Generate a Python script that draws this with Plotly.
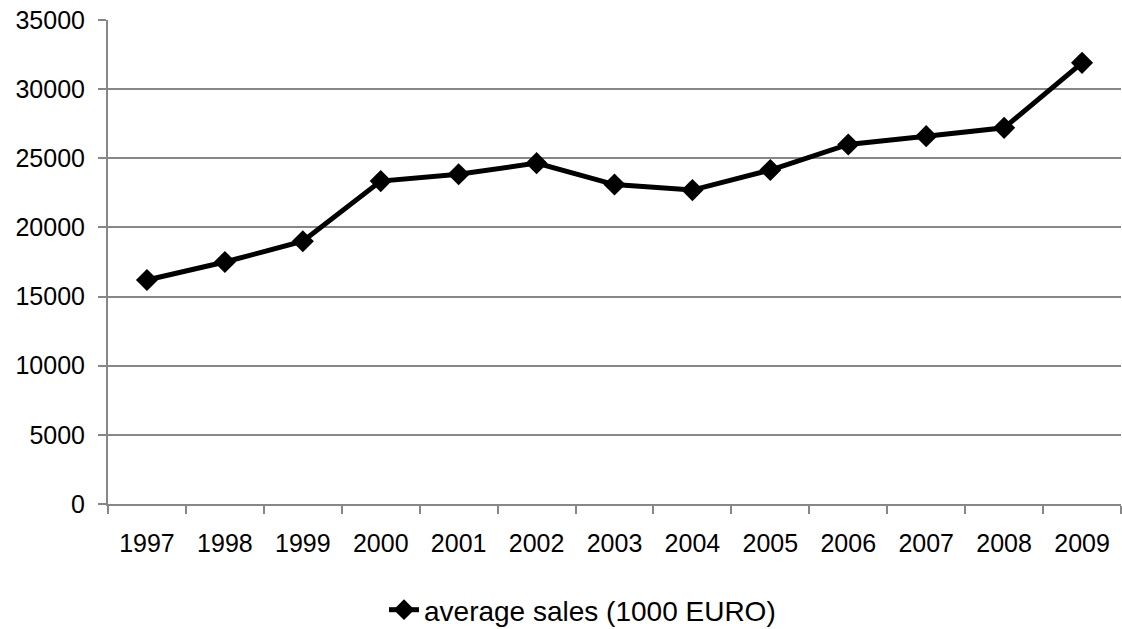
import plotly.graph_objects as go

# Average sales per year, in thousands of euro
years = ["1997", "1998", "1999", "2000", "2001", "2002", "2003",
         "2004", "2005", "2006", "2007", "2008", "2009"]
avg_sales = [16200, 17500, 19000, 23350, 23850, 24650, 23100,
             22700, 24150, 26000, 26600, 27200, 31900]
series_name = "average sales (1000 EURO)"
y_ticks = [0, 5000, 10000, 15000, 20000, 25000, 30000, 35000]

FONT = "Liberation Sans, Arial, sans-serif"
GRID = "#878787"

fig = go.Figure()
fig.add_trace(go.Scatter(
    x=years,
    y=avg_sales,
    mode="lines+markers",
    name=series_name,
    line=dict(color="black", width=5),
    marker=dict(symbol="diamond", size=17, color="black"),
))

fig.update_layout(
    width=1122,
    height=629,
    margin=dict(l=108, r=1, t=20, b=125),
    paper_bgcolor="white",
    plot_bgcolor="white",
    font=dict(family=FONT, size=25, color="black"),
    showlegend=True,
    legend=dict(
        orientation="h",
        xref="container", yref="container",
        x=384 / 1122, xanchor="left",
        y=1 - 610 / 629, yanchor="middle",
        font=dict(family=FONT, size=28, color="black"),
        bgcolor="rgba(0,0,0,0)",
    ),
)

fig.update_xaxes(
    type="category",
    range=[-0.5, len(years) - 0.5],
    tickson="boundaries",
    ticks="outside",
    ticklen=8,
    tickwidth=2,
    tickcolor=GRID,
    showline=True,
    linecolor=GRID,
    linewidth=2,
    showgrid=False,
    ticklabelstandoff=16,
    tickfont=dict(family=FONT, size=25, color="black"),
)

fig.update_yaxes(
    range=[0, 35000],
    tickvals=y_ticks,
    ticktext=[str(v) for v in y_ticks],
    ticks="outside",
    ticklen=8,
    tickwidth=2,
    tickcolor=GRID,
    showline=True,
    linecolor=GRID,
    linewidth=2,
    showgrid=True,
    gridcolor=GRID,
    gridwidth=2,
    zeroline=False,
    ticklabelstandoff=8,
    tickfont=dict(family=FONT, size=25, color="black"),
)

fig.write_html("out.html")
